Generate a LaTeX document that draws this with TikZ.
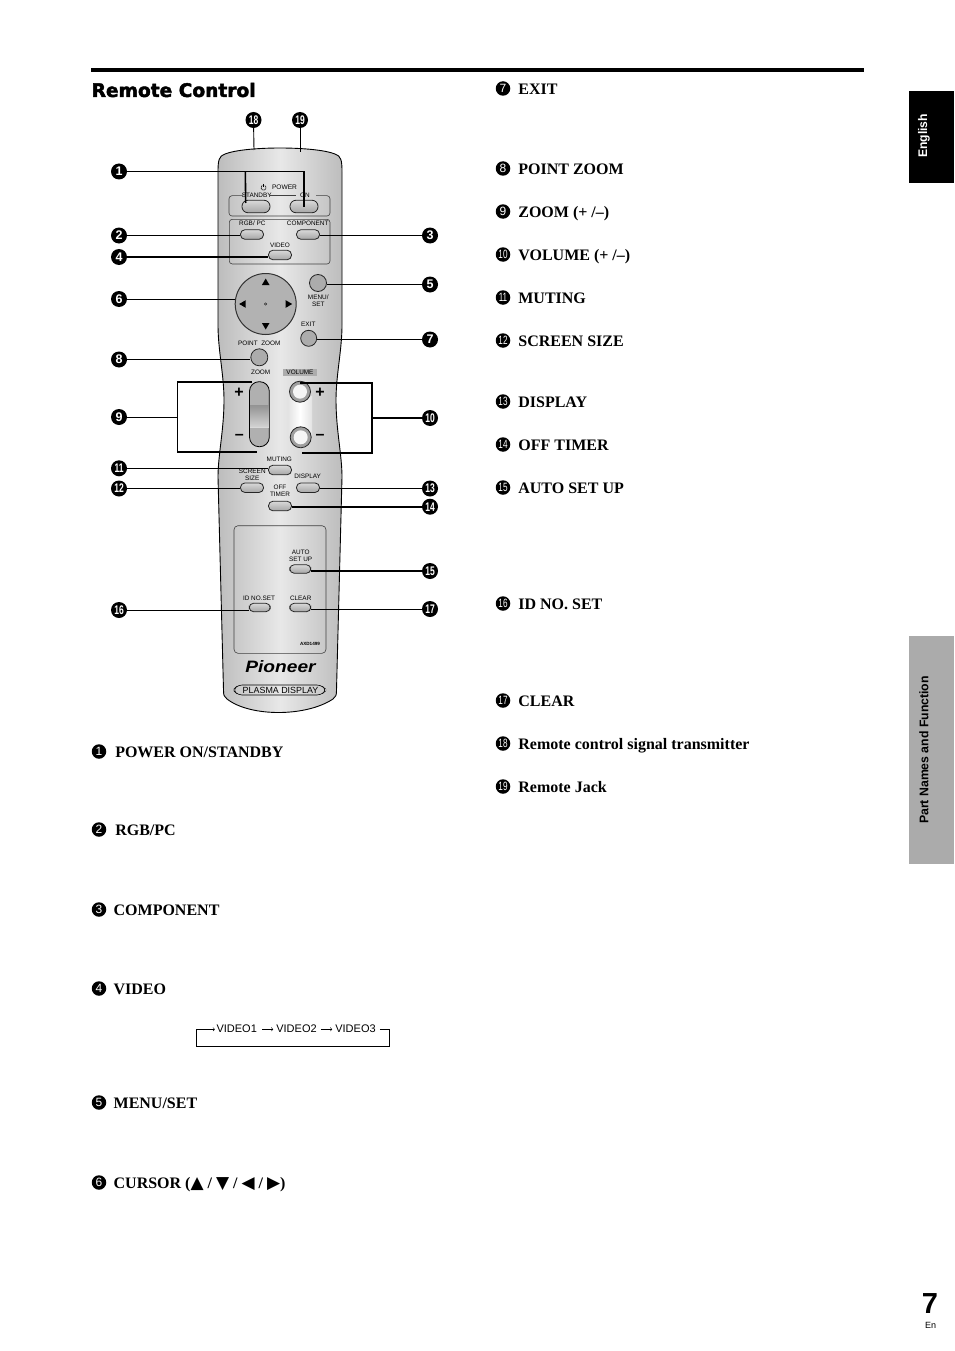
\documentclass[tikz,border=0pt]{standalone}
\usepackage{fontspec}
\usepackage{amsmath}
\usepackage{xcolor}
\usepackage{tikz}
\usetikzlibrary{positioning}
\setmainfont{Liberation Serif}
\setsansfont{Liberation Sans}
\newfontfamily\symfont{DejaVu Sans}
\newfontfamily\headfont[BoldFeatures={FakeBold=2.5}]{DejaVu Sans}
\newcommand{\nn}[1]{\scalebox{.68}[1]{#1}}
\newcommand{\keyfont}{\sffamily\fontsize{6.4}{6.6}\selectfont}
\newcommand{\tri}[1]{{\symfont\fontsize{17}{17}\selectfont #1}}
\tikzset{
    numdot/.style = {circle, fill=black, text=white, minimum size=16pt, inner sep=0pt, font=\sffamily\bfseries\fontsize{12.5}{12.5}\selectfont},
    itemdot/.style = {circle, fill=black, text=white, minimum size=14.5pt, inner sep=0pt, font=\sffamily\fontsize{12}{12}\selectfont},
    itemtext/.style = {inner sep=0pt, text height=11.6pt, text depth=0pt, font=\bfseries\fontsize{16}{16}\selectfont},
    keylabel/.style = {inner sep=0pt, align=center, font=\keyfont},
    keybtn/.style = {rectangle, rounded corners=4.4pt, draw=black!85, line width=0.8pt, top color=gray!30, bottom color=gray!70, minimum width=23pt, minimum height=9.5pt, inner sep=0pt},
    bigbtn/.style = {keybtn, rounded corners=6pt, minimum width=28pt, minimum height=12.5pt},
    smallbtn/.style = {keybtn, minimum width=21pt, minimum height=8.5pt},
    roundbtn/.style = {circle, draw=black!85, line width=0.8pt, fill=gray!65, minimum size=17pt, inner sep=0pt},
    volbtn/.style = {circle, draw=black!85, line width=0.8pt, fill=gray!75, minimum size=21pt, inner sep=0pt},
    leader/.style = {line width=1.6pt, black},
    thinleader/.style = {line width=0.9pt, black},
    grpbox/.style = {line width=0.6pt, black!75, rounded corners=3pt},
    loopline/.style = {line width=0.8pt, black},
    arrow/.style = {line width=0.5pt, ->, >=to},
    pageword/.style = {inner sep=0pt, font=\sffamily\bfseries\fontsize{12.5}{12.5}\selectfont},
    videoword/.style = {inner sep=0pt, font=\sffamily\fontsize{11}{11}\selectfont},
    signword/.style = {inner sep=0pt, font=\sffamily\bfseries\fontsize{16}{16}\selectfont}
}
\begin{document}
\begin{tikzpicture}[x=1pt, y=-1pt]
\useasboundingbox (0,0) rectangle (954,1351);

\fill (91,68) rectangle (864,72);
\node (heading) [anchor=west, inner sep=0pt, font=\headfont\bfseries\fontsize{18.6}{18.6}\selectfont] at (91.5,90) {Remote Control};

\fill (909,91) rectangle (954,183);
\fill[black!33] (909,636) rectangle (954,864);
\node (english) [pageword, text=white, rotate=90, xscale=0.97] at (924,136) {English};
\node (partnames) [pageword, rotate=90, xscale=0.98] at (924,750) {Part Names and Function};
\node (pagenum) [inner sep=0pt, font=\sffamily\bfseries\fontsize{29}{29}\selectfont] at (930,1304) {7};
\node (pageen) [inner sep=0pt, font=\sffamily\fontsize{9}{9}\selectfont] at (930.5,1325) {En};

\draw[line width=0.9pt, left color=gray!52, right color=gray!52, middle color=gray!18]
  (218,172) .. controls (218,160) and (219,156) .. (225,154)
  .. controls (245,146) and (315,146) .. (335,154)
  .. controls (341,156) and (342,160) .. (342,172)
  -- (342,325) .. controls (342,350) and (336,375) .. (336,400)
  .. controls (336,430) and (342,455) .. (342,477)
  -- (336.5,690) .. controls (336.5,695) and (336,697) .. (333,699)
  .. controls (306,717) and (250,717) .. (227,699)
  .. controls (224,697) and (223.5,695) .. (223.5,690)
  -- (218,477) .. controls (218,455) and (224,430) .. (224,400)
  .. controls (224,375) and (218,350) .. (218,325) -- cycle;

\draw[grpbox] (243,195.7) -- (229,195.7) -- (229,216) -- (330,216) -- (330,195.7) -- (316,195.7);
\draw[grpbox] (270,195.7) -- (296,195.7);
\draw[grpbox] (229.3,219.3) rectangle (330,264);
\draw[grpbox, rounded corners=4pt] (234,525.7) rectangle (326,653.3);
\draw[line width=0.6pt, rounded corners=4pt] (238,685) -- (321,685) -- (326.5,690) -- (321,695) -- (238,695) -- (233,690) -- cycle;

\shade[left color=gray!22, right color=gray!22, middle color=white] (288,396) rectangle (312,434);
\draw[line width=0.8pt, rounded corners=9.5pt, fill=gray!62] (249.5,381.7) rectangle (269.3,446.7);
\shade[top color=gray!85, bottom color=gray!35] (250,405) rectangle (268.9,426.7);
\draw[line width=0.4pt, gray!30] (250,426.7) -- (268.9,426.7);

\node (standby) [bigbtn] at (256,206.5) {};
\node (on) [bigbtn] at (304,206.5) {};
\node (rgbpc) [keybtn] at (252,234.5) {};
\node (component) [keybtn] at (308,234.5) {};
\node (video) [keybtn] at (280,255) {};
\node (menuset) [roundbtn] at (318,283) {};
\node (cursor) [circle, draw=black!80, line width=1pt, fill=gray!60, minimum size=61pt, inner sep=0pt] at (265.7,304) {};
\node (exit) [roundbtn, minimum size=16pt] at (308.7,338.3) {};
\node (pointzoom) [roundbtn] at (259.3,357.3) {};
\node (volup) [volbtn] at (300,391.7) {};
\node (voldown) [volbtn] at (300.7,437.3) {};
\fill[gray!8] (volup) circle (7);
\fill[gray!8] (voldown) circle (7);
\node (muting) [keybtn] at (280,470) {};
\node (screensize) [keybtn] at (252,487.7) {};
\node (display) [keybtn] at (308,487.7) {};
\node (offtimer) [keybtn] at (280,506) {};
\node (autosetup) [smallbtn] at (300.3,569) {};
\node (idnoset) [smallbtn] at (259.7,607.5) {};
\node (clear) [smallbtn] at (300.3,607.5) {};

\fill (265.7,278.5) -- (269.5,285) -- (261.9,285) -- cycle;
\fill (265.7,329.5) -- (269.5,323) -- (261.9,323) -- cycle;
\fill (239.2,304) -- (245.7,300.2) -- (245.7,307.8) -- cycle;
\fill (292.2,304) -- (285.7,300.2) -- (285.7,307.8) -- cycle;
\draw[line width=0.4pt, fill=white] (265.7,302.8) -- (266.9,304) -- (265.7,305.2) -- (264.5,304) -- cycle;

\draw[line width=0.45pt] (264.8,185.5) arc (-60:240:2.5);
\draw[line width=0.45pt] (263.5,184) -- (263.5,187);
\node (lblpower) [keylabel, font=\sffamily\fontsize{6.6}{7}\selectfont] at (284.5,187.3) {POWER};
\node (lblstandby) [keylabel] at (256.7,195.7) {STANDBY};
\node (lblon) [keylabel] at (305,195.7) {ON};
\node (lblrgbpc) [keylabel] at (252.3,223.3) {RGB/ PC};
\node (lblcomponent) [keylabel] at (307.7,223.3) {COMPONENT};
\node (lblvideo) [keylabel] at (280,245) {VIDEO};
\node (lblmenuset) [keylabel] at (318.3,300.5) {MENU/\\SET};
\node (lblexit) [keylabel] at (308.3,324) {EXIT};
\node (lblpointzoom) [keylabel] at (259.3,343.3) {POINT\ \ ZOOM};
\node (lblzoom) [keylabel] at (260.7,372.7) {ZOOM};
\node (lblvolume) [keylabel, fill=gray!65, minimum width=34.5pt, minimum height=7.5pt] at (300,372.7) {VOLUME};
\node (lblmuting) [keylabel] at (279.3,459.3) {MUTING};
\node (lblscreen) [keylabel] at (252.3,474.5) {SCREEN\\SIZE};
\node (lbldisplay) [keylabel] at (307.7,476.7) {DISPLAY};
\node (lbloff) [keylabel] at (280,490.7) {OFF\\TIMER};
\node (lblauto) [keylabel] at (300.7,556) {AUTO\\SET UP};
\node (lblid) [keylabel] at (259,598.3) {ID NO.SET};
\node (lblclear) [keylabel] at (300.7,598.3) {CLEAR};
\node (lblaxd) [keylabel, font=\sffamily\bfseries\fontsize{4.6}{5}\selectfont] at (310,644.3) {AXD1499};
\node (logo) [inner sep=0pt, xscale=1.16, font=\sffamily\bfseries\itshape\fontsize{16.5}{16.5}\selectfont] at (280.5,666.5) {Pioneer};
\node (lblplasma) [inner sep=0pt, font=\sffamily\fontsize{8.9}{8.9}\selectfont] at (280.5,690.2) {PLASMA DISPLAY};
\node (plusl) [signword] at (239,392.7) {+};
\node (plusr) [signword] at (320,392.7) {+};
\node (minusl) [signword] at (239.3,437.3) {--};
\node (minusr) [signword] at (320,437.3) {--};

\node (n1) [numdot] at (119,171.5) {1};
\node (n2) [numdot] at (119,235.5) {2};
\node (n3) [numdot] at (430,235.5) {3};
\node (n4) [numdot] at (119,257) {4};
\node (n5) [numdot] at (430,284.5) {5};
\node (n6) [numdot] at (119,299) {6};
\node (n7) [numdot] at (430,339.5) {7};
\node (n8) [numdot] at (119,359.5) {8};
\node (n9) [numdot] at (119,417) {9};
\node (n10) [numdot] at (430,418) {\nn{10}};
\node (n11) [numdot] at (119,468.3) {\nn{11}};
\node (n12) [numdot] at (119,488.5) {\nn{12}};
\node (n13) [numdot] at (430,488.5) {\nn{13}};
\node (n14) [numdot] at (430,506.7) {\nn{14}};
\node (n15) [numdot] at (430,571) {\nn{15}};
\node (n16) [numdot] at (119,610) {\nn{16}};
\node (n17) [numdot] at (430,609) {\nn{17}};
\node (n18) [numdot] at (253.5,120) {\nn{18}};
\node (n19) [numdot] at (300,120) {\nn{19}};
\coordinate (tx) at (254,150);
\coordinate (jack) at (300,152);
\coordinate (zoomtop) at (252,381.7);
\coordinate (zoombot) at (256.7,451.7);
\coordinate (voltop) at (300,382.7);
\coordinate (volbot) at (301.7,452.7);
\coordinate (brl) at (177.3,417);
\coordinate (brr) at (371.7,418);

\draw[thinleader] (n18) -- (tx);
\draw[thinleader] (n19) -- (jack);
\draw[leader] (n1) -- (n1 -| on) -- (on.center);
\draw[leader] (n1 -| standby.west) ++(3.7,0) -- (245.7,203);
\draw[leader] (n2) -- (n2 -| rgbpc.west);
\draw[leader] (n3) -- (n3 -| component.east);
\draw[leader] (n4) -- (n4 -| video.west);
\draw[leader] (n5) -- (n5 -| menuset.east);
\draw[thinleader] (n6) -- (n6 -| cursor.west);
\draw[leader] (n7) -- (n7 -| exit.east);
\draw[leader] (n8) -- (n8 -| pointzoom.west);
\draw[thinleader] (n9) -- (brl);
\draw[leader] (zoomtop) -| (brl) |- (zoombot);
\draw[leader] (n10) -- (brr);
\draw[leader] (voltop) -| (brr) |- (volbot);
\draw[leader] (n11) -- (n11 -| muting.west);
\draw[leader] (n12) -- (n12 -| screensize.west);
\draw[thinleader] (n13) -- (n13 -| display.east);
\draw[leader] (n14) -- (n14 -| offtimer.east);
\draw[leader] (n15) -- (n15 -| autosetup.east);
\draw[thinleader] (n16) -- (n16 -| idnoset.west);
\draw[thinleader] (n17) -- (n17 -| clear.east);

\node (b1) [itemdot] at (99,751.5) {1};
\node (b2) [itemdot] at (99,829.5) {2};
\node (b3) [itemdot] at (99,909.5) {3};
\node (b4) [itemdot] at (99,988.5) {4};
\node (b5) [itemdot] at (99,1102.5) {5};
\node (b6) [itemdot] at (99,1182.5) {6};
\node (b7) [itemdot] at (503,88.5) {7};
\node (b8) [itemdot] at (503,168.5) {8};
\node (b9) [itemdot] at (503,211.5) {9};
\node (b10) [itemdot] at (503,254.5) {\nn{10}};
\node (b11) [itemdot] at (503,297.5) {\nn{11}};
\node (b12) [itemdot] at (503,340.5) {\nn{12}};
\node (b13) [itemdot] at (503,401.5) {\nn{13}};
\node (b14) [itemdot] at (503,444.5) {\nn{14}};
\node (b15) [itemdot] at (503,487.5) {\nn{15}};
\node (b16) [itemdot] at (503,603.5) {\nn{16}};
\node (b17) [itemdot] at (503,700.5) {\nn{17}};
\node (b18) [itemdot] at (503,743.5) {\nn{18}};
\node (b19) [itemdot] at (503,786.5) {\nn{19}};

\node (t1) [itemtext, right=8.6pt of b1] {POWER ON/STANDBY};
\node (t2) [itemtext, right=8.6pt of b2] {RGB/PC};
\node (t3) [itemtext, right=7pt of b3] {COMPONENT};
\node (t4) [itemtext, right=7pt of b4] {VIDEO};
\node (t5) [itemtext, right=7pt of b5] {MENU/SET};
\node (t6) [itemtext, right=7pt of b6] {CURSOR (\tri{▲} / \tri{▼} / \tri{◀} / \tri{▶})};
\node (t7) [itemtext, right=7.7pt of b7] {EXIT};
\node (t8) [itemtext, right=7.7pt of b8] {POINT ZOOM};
\node (t9) [itemtext, right=7.7pt of b9] {ZOOM (+ /--)};
\node (t10) [itemtext, right=7.7pt of b10] {VOLUME (+ /--)};
\node (t11) [itemtext, right=7.7pt of b11] {MUTING};
\node (t12) [itemtext, right=7.7pt of b12] {SCREEN SIZE};
\node (t13) [itemtext, right=7.7pt of b13] {DISPLAY};
\node (t14) [itemtext, right=7.7pt of b14] {OFF TIMER};
\node (t15) [itemtext, right=7.7pt of b15] {AUTO SET UP};
\node (t16) [itemtext, right=7.7pt of b16] {ID NO. SET};
\node (t17) [itemtext, right=7.7pt of b17] {CLEAR};
\node (t18) [itemtext, right=7.7pt of b18] {Remote control signal transmitter};
\node (t19) [itemtext, right=7.7pt of b19] {Remote Jack};

\node (video1) [videoword] at (236.7,1028.5) {VIDEO1};
\node (video2) [videoword] at (296.5,1028.5) {VIDEO2};
\node (video3) [videoword] at (355.5,1028.5) {VIDEO3};
\coordinate (loopa) at (196.5,1029.3);
\coordinate (loopb) at (389.3,1029.3);
\draw[loopline] (video3.east) ++(4,0.8) -- (loopb) -- (389.3,1046) -- (196.5,1046) -- (loopa) -- ++(6,0);
\draw[arrow] (loopa) ++(6,0) -- ([xshift=-1.5pt,yshift=-0.8pt]video1.west);
\draw[arrow] ([xshift=5pt,yshift=-0.8pt]video1.east) -- ([xshift=-3pt,yshift=-0.8pt]video2.west);
\draw[arrow] ([xshift=4pt,yshift=-0.8pt]video2.east) -- ([xshift=-3pt,yshift=-0.8pt]video3.west);
\end{tikzpicture}
\end{document}
